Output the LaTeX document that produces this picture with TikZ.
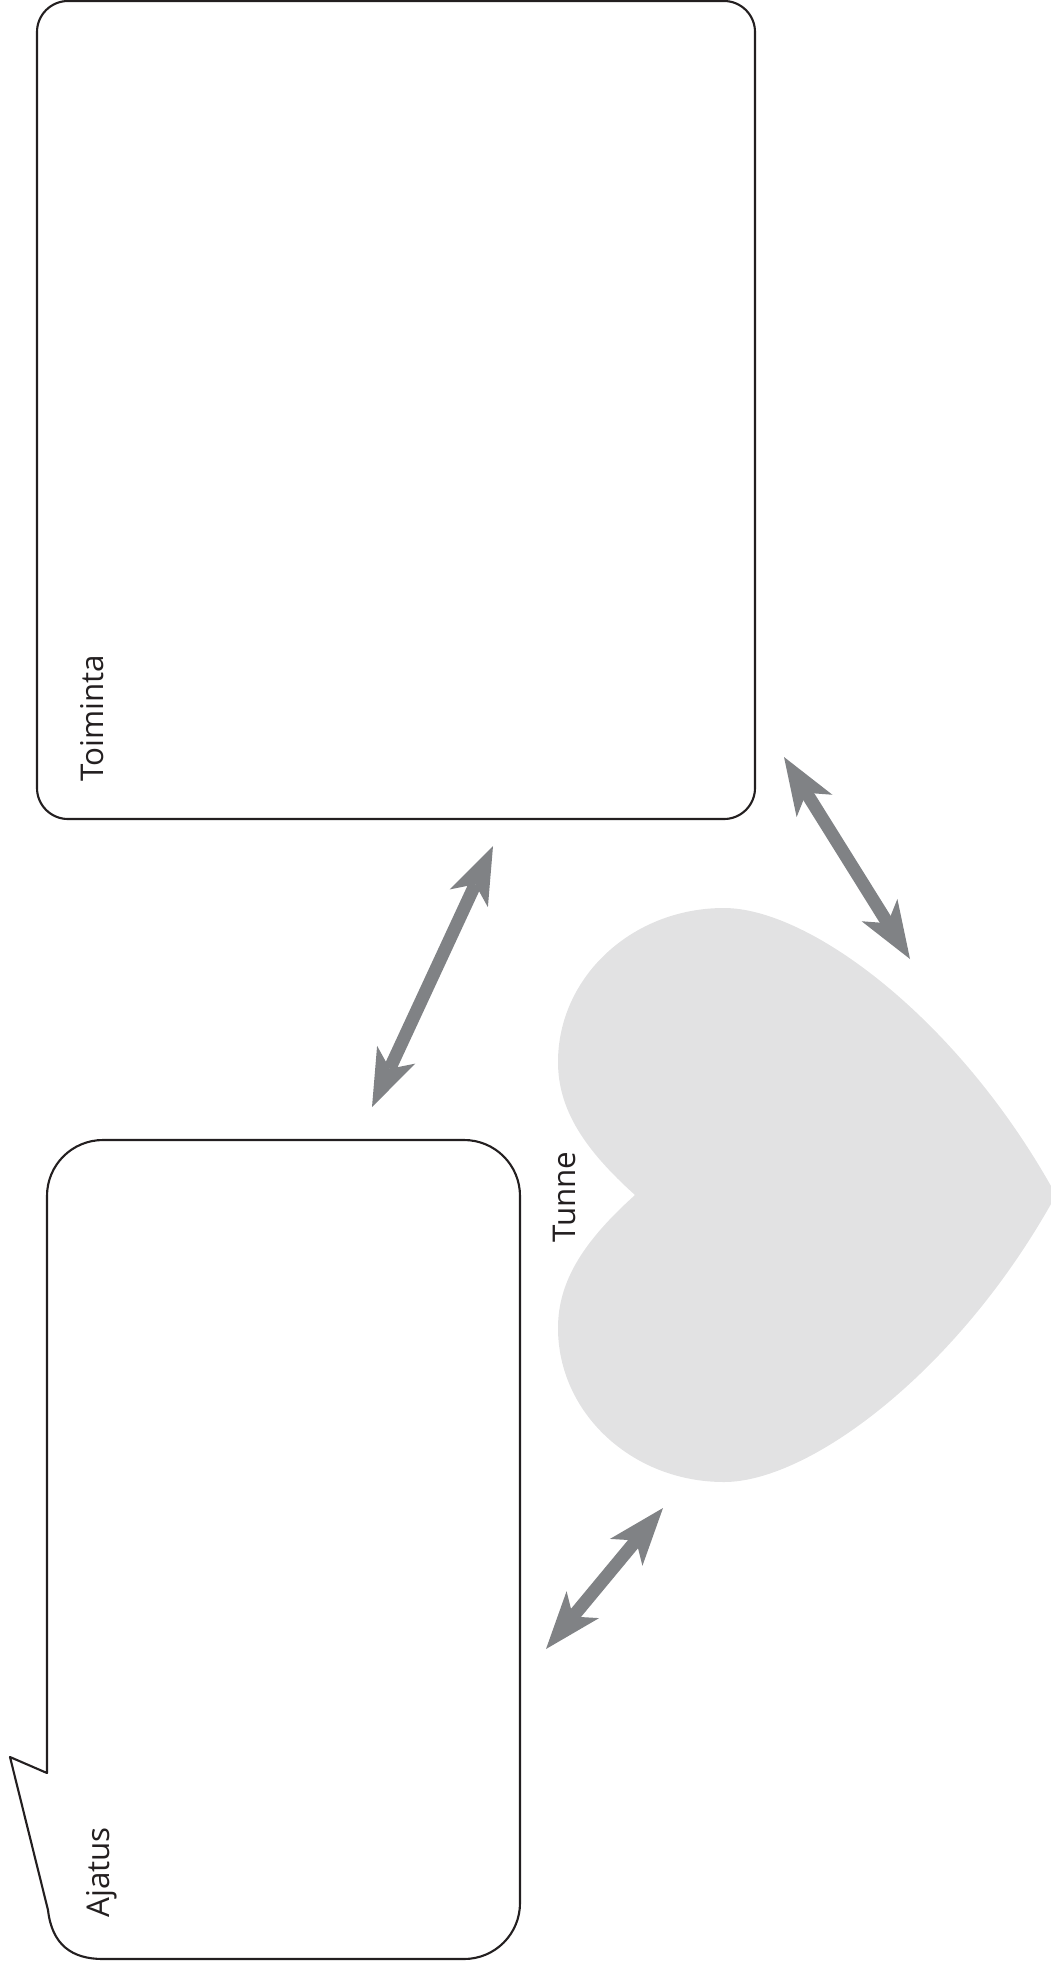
\documentclass[tikz,border=0pt]{standalone}
\usepackage{fontspec}
\setmainfont{Open Sans}
\usetikzlibrary{arrows.meta}
\definecolor{inkblack}{HTML}{231F20}
\definecolor{arrowgray}{HTML}{808285}
\definecolor{heartgray}{HTML}{E2E2E3}
\begin{document}
\begin{tikzpicture}[x=0.025cm, y=-0.025cm,
    outline/.style={draw=inkblack, line width=1.5pt, line join=round},
    label/.style={rotate=90, anchor=base west, inner sep=0pt, text=inkblack, font=\fontsize{22.3}{26}\selectfont},
    twoway/.style={draw=arrowgray, line width=9.2pt,
        {Stealth[length=41pt,width=30pt,inset=11pt,line width=0pt]}-{Stealth[length=41pt,width=30pt,inset=11pt,line width=0pt]}}]
    \useasboundingbox (0,0) rectangle (1051,1973);

    % Heart
    \fill[heartgray] (635,1195) .. controls (585,1150) and (558,1110) .. (558,1062)
        .. controls (558,977) and (632,908) .. (724,908)
        .. controls (810,908) and (960,1020) .. (1056,1195)
        .. controls (960,1370) and (810,1482) .. (724,1482)
        .. controls (632,1482) and (558,1413) .. (558,1328)
        .. controls (558,1280) and (585,1240) .. (635,1195) -- cycle;

    % Action box
    \draw[outline, rounded corners=0.775cm] (37,1) rectangle (755,819);

    % Thought bubble
    \draw[outline] (47,1773) -- (10,1757) -- (48,1910)
        .. controls (52,1945) and (72,1959) .. (103,1959) -- (464,1959)
        .. controls (495,1959) and (520,1934) .. (520,1903) -- (520,1196)
        .. controls (520,1165) and (495,1140) .. (464,1140) -- (103,1140)
        .. controls (72,1140) and (47,1165) .. (47,1196) -- cycle;

    % Labels
    \node[label] (toiminta) at (103,782) {Toiminta};
    \node[label] (ajatus) at (109,1918) {Ajatus};
    \node[label] (tunne) at (575,1243) {Tunne};

    % Arrow ends
    \coordinate (toimBot) at (493,846);
    \coordinate (ajatTop) at (372,1107);
    \coordinate (toimSide) at (784,757);
    \coordinate (tunneTop) at (910,959);
    \coordinate (tunneBot) at (663,1508);
    \coordinate (ajatSide) at (546,1649);

    % Arrows
    \draw[twoway] (ajatTop) -- (toimBot);
    \draw[twoway] (toimSide) -- (tunneTop);
    \draw[twoway] (ajatSide) -- (tunneBot);
\end{tikzpicture}
\end{document}
